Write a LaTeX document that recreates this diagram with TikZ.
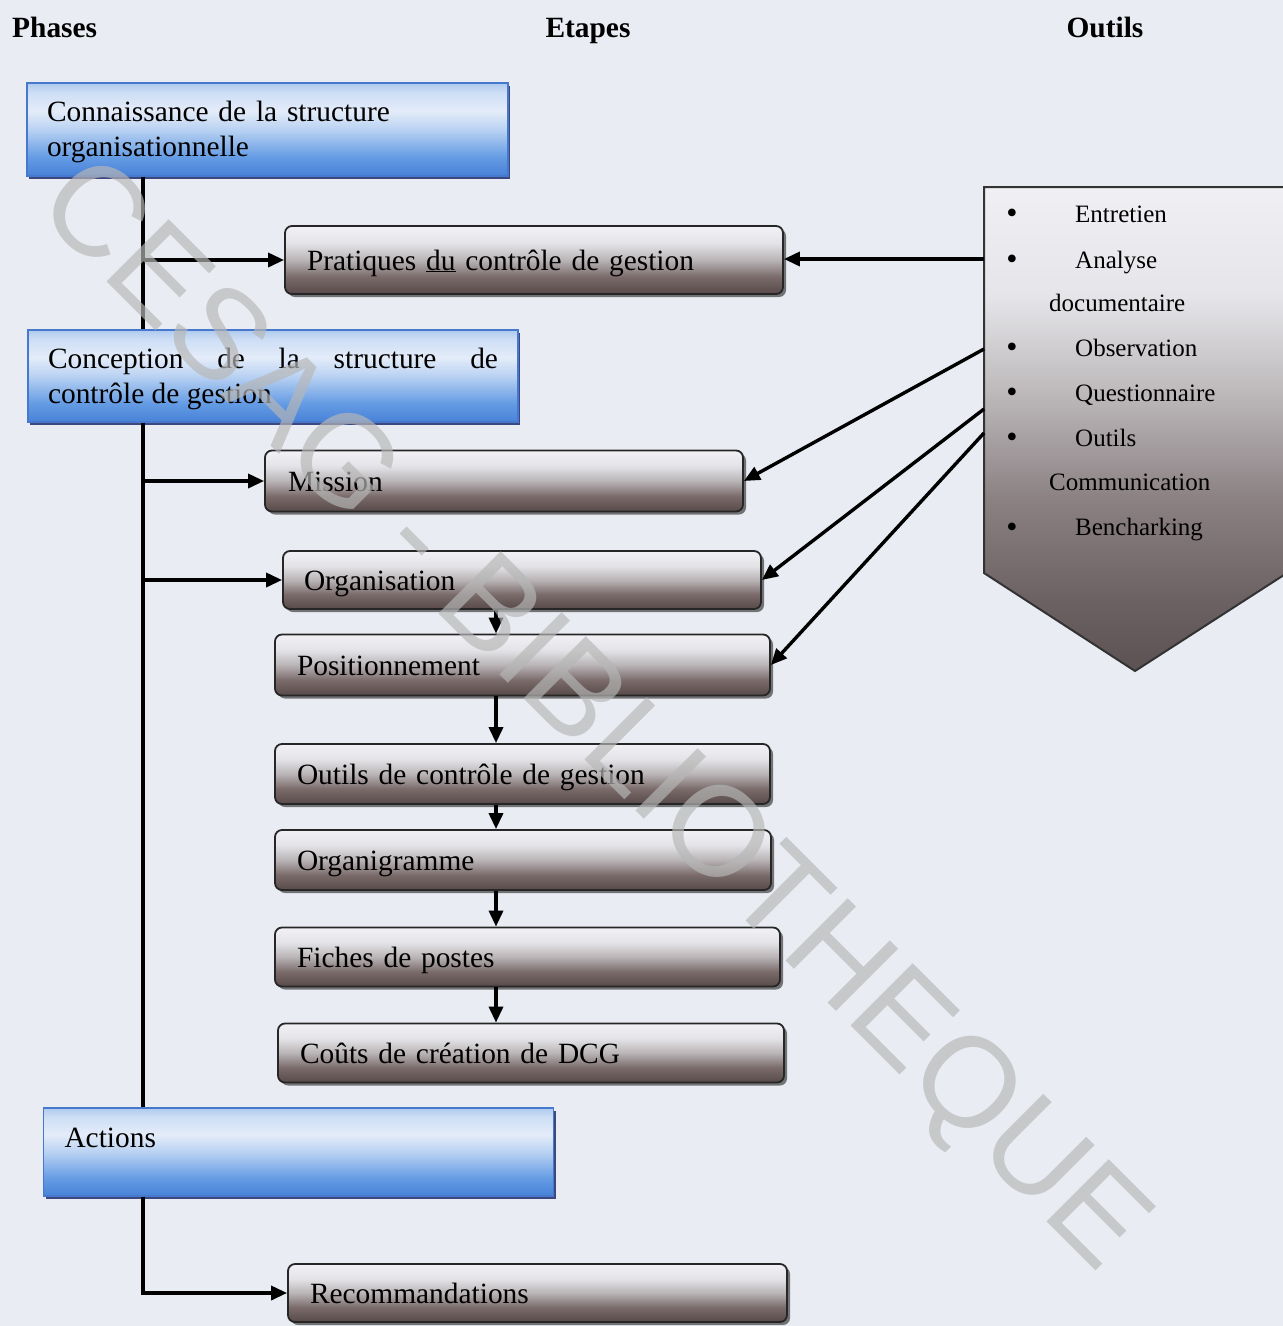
\documentclass[tikz,border=0pt]{standalone}
\usepackage{fontspec}
\setmainfont{Liberation Serif}
\newfontfamily\wmfont{Liberation Sans}
\usetikzlibrary{arrows.meta,shadows,calc}

% colours
\definecolor{bgcol}{RGB}{233,236,243}
\definecolor{phaseline}{RGB}{70,120,205}
\definecolor{phaseshadow}{RGB}{30,45,110}
\definecolor{wmgray}{RGB}{183,183,183}
\definecolor{phA}{RGB}{72,130,215}
\definecolor{phB}{RGB}{100,155,228}
\definecolor{phC}{RGB}{185,210,242}
\definecolor{phD}{RGB}{228,236,249}
\definecolor{phE}{RGB}{205,222,245}
\definecolor{phF}{RGB}{175,202,238}
\definecolor{stA}{RGB}{88,74,74}
\definecolor{stB}{RGB}{122,106,106}
\definecolor{stC}{RGB}{185,180,182}
\definecolor{stD}{RGB}{228,228,232}
\definecolor{stE}{RGB}{242,242,246}
\definecolor{toA}{RGB}{92,82,84}
\definecolor{toB}{RGB}{108,98,100}
\definecolor{toC}{RGB}{140,130,132}
\definecolor{toD}{RGB}{190,186,188}
\definecolor{toE}{RGB}{230,230,234}
\definecolor{toF}{RGB}{240,240,244}

% vertical shadings (the filled path is mapped onto 25bp..75bp)
\pgfdeclareverticalshading{phaseshade}{100bp}{color(0bp)=(phA); color(25bp)=(phA); color(35bp)=(phB);
  color(50bp)=(phC); color(60bp)=(phD); color(70bp)=(phE); color(75bp)=(phF); color(100bp)=(phF)}
\pgfdeclareverticalshading{stepshade}{100bp}{color(0bp)=(stA); color(25bp)=(stA); color(37.5bp)=(stB);
  color(50bp)=(stC); color(62.5bp)=(stD); color(75bp)=(stE); color(100bp)=(stE)}
\pgfdeclareverticalshading{toolshade}{100bp}{color(0bp)=(toA); color(25bp)=(toA); color(32.5bp)=(toB);
  color(43bp)=(toC); color(54bp)=(toD); color(64bp)=(toE); color(75bp)=(toF); color(100bp)=(toF)}

\newcommand\boxfs{\fontsize{29.4}{35}\selectfont}
\newcommand\toolfs{\fontsize{25}{30}\selectfont}
\newcommand\bulfs{\fontsize{32}{30}\selectfont}
\newcommand\hdrfs{\fontsize{29.4}{35}\selectfont\bfseries}

\tikzset{
  phasebox/.style={draw=phaseline, line width=1.2pt, shade, shading=phaseshade,
    drop shadow={shadow xshift=2pt, shadow yshift=-3pt, fill=phaseshadow, opacity=0.85},
    inner xsep=20pt, inner ysep=0pt, align=left, font=\boxfs},
  stepbox/.style={draw=black!85, line width=1.8pt, rounded corners=7pt, shade, shading=stepshade,
    drop shadow={shadow xshift=3pt, shadow yshift=-3pt, fill=black!75, opacity=0.7},
    inner xsep=22pt, inner ysep=0pt, align=left, font=\boxfs, text height=24pt, text depth=4pt},
  arr/.style={line width=3.4pt, -{Triangle[length=16pt,width=14pt]}},
  trunk/.style={line width=3.4pt},
  hdr/.style={font=\hdrfs, inner sep=0pt},
  tool/.style={font=\toolfs, anchor=base west, inner sep=0pt},
  bul/.style={font=\bulfs, anchor=base, inner sep=0pt},
  wm/.style={font=\wmfont\fontsize{128}{128}\selectfont, text=wmgray, text opacity=0.68,
    rotate=-45, anchor=base, inner sep=0pt}
}

\begin{document}
\begin{tikzpicture}[x=1pt, y=-1pt]
\useasboundingbox (0,0) rectangle (1283,1326);
\fill[bgcol] (0,0) rectangle (1283,1326);

% column headings
\node[hdr, anchor=base west] (hph) at (12,37) {Phases};
\node[hdr, anchor=base] (het) at (588,37) {Etapes};
\node[hdr, anchor=base] (hou) at (1105,37) {Outils};

% phases
\node[phasebox, minimum width=481pt, minimum height=93pt, text width=441pt,
      text height=27pt, text depth=43pt] (p1) at (267.5,129.5)
  {Connaissance de la structure\\organisationnelle};
\node[phasebox, minimum width=490pt, minimum height=92pt, text width=450pt, align=justify,
      text height=27pt, text depth=43pt] (p2) at (273,376)
  {Conception de la structure de\linebreak contrôle de gestion};
\node[phasebox, minimum width=509pt, minimum height=88pt, text width=468pt,
      inner xsep=21pt, text height=30pt, text depth=40pt] (p3) at (298.5,1152)
  {Actions};

% steps
\node[stepbox, minimum width=498pt, minimum height=68pt, text width=454pt] (prat) at (534,260)
  {Pratiques \underline{du} contrôle de gestion};
\node[stepbox, minimum width=478pt, minimum height=61pt, text width=432pt, inner xsep=23pt] (mis) at (504,481) {Mission};
\node[stepbox, minimum width=478pt, minimum height=58pt, text width=436pt, inner xsep=21pt] (org) at (522,580) {Organisation};
\node[stepbox, minimum width=495pt, minimum height=61pt, text width=451pt] (pos) at (522.5,665) {Positionnement};
\node[stepbox, minimum width=495pt, minimum height=60pt, text width=451pt] (outg) at (522.5,774) {Outils de contrôle de gestion};
\node[stepbox, minimum width=496pt, minimum height=60pt, text width=452pt] (orgm) at (523,860) {Organigramme};
\node[stepbox, minimum width=505pt, minimum height=59pt, text width=461pt] (fich) at (527.5,957) {Fiches de postes};
\node[stepbox, minimum width=506pt, minimum height=59pt, text width=462pt] (cout) at (531,1053) {Coûts de création de DCG};
\node[stepbox, minimum width=499pt, minimum height=58pt, text width=455pt] (rec) at (537.5,1293) {Recommandations};

% tools panel (pointed towards the bottom)
\path[draw=black!80, line width=2pt, shade, shading=toolshade]
  (984,187) -- (1287,187) -- (1287,573) -- (1135,671) -- (984,573) -- cycle;
\node[bul] (b1) at (1012,223) {•};
\node[tool] (i1) at (1075,222) {Entretien};
\node[bul] (b2) at (1012,269) {•};
\node[tool] (i2) at (1075,268) {Analyse};
\node[tool] (i2b) at (1049,311) {documentaire};
\node[bul] (b3) at (1012,357) {•};
\node[tool] (i3) at (1075,356) {Observation};
\node[bul] (b4) at (1012,402) {•};
\node[tool] (i4) at (1075,401) {Questionnaire};
\node[bul] (b5) at (1012,447) {•};
\node[tool] (i5) at (1075,446) {Outils};
\node[tool] (i5b) at (1049,490) {Communication};
\node[bul] (b6) at (1012,537) {•};
\node[tool] (i6) at (1075,535) {Bencharking};

\coordinate (t1) at (984,259);
\coordinate (t2) at (984,349);
\coordinate (t3) at (984,409);
\coordinate (t4) at (984,433);

% left trunk
\coordinate (tx) at (143,0);
\draw[trunk] (p1.south -| tx) -- (p2.north -| tx);
\draw[trunk] (p2.south -| tx) -- (p3.north -| tx);
\draw[arr] (tx |- prat.west) -- (prat.west);
\draw[arr] (tx |- mis.west) -- (mis.west);
\draw[arr] (tx |- org.west) -- (org.west);
\draw[arr] (p3.south -| tx) |- (rec.west);

% chain of steps
\coordinate (vx) at (496,0);
\draw[arr] (org.south -| vx) -- (pos.north -| vx);
\draw[arr] (pos.south -| vx) -- (outg.north -| vx);
\draw[arr] (outg.south -| vx) -- (orgm.north -| vx);
\draw[arr] (orgm.south -| vx) -- (fich.north -| vx);
\draw[arr] (fich.south -| vx) -- (cout.north -| vx);

% tools feeding the steps
\draw[arr] (t1) -- (t1 -| prat.east);
\draw[arr] (t2) -- (mis.east);
\draw[arr] (t3) -- (org.east);
\draw[arr] (t4) -- (pos.east);

% library stamp
\node[wm] (stamp) at (567,742) {CESAG - BIBLIOTHEQUE};
\end{tikzpicture}
\end{document}
